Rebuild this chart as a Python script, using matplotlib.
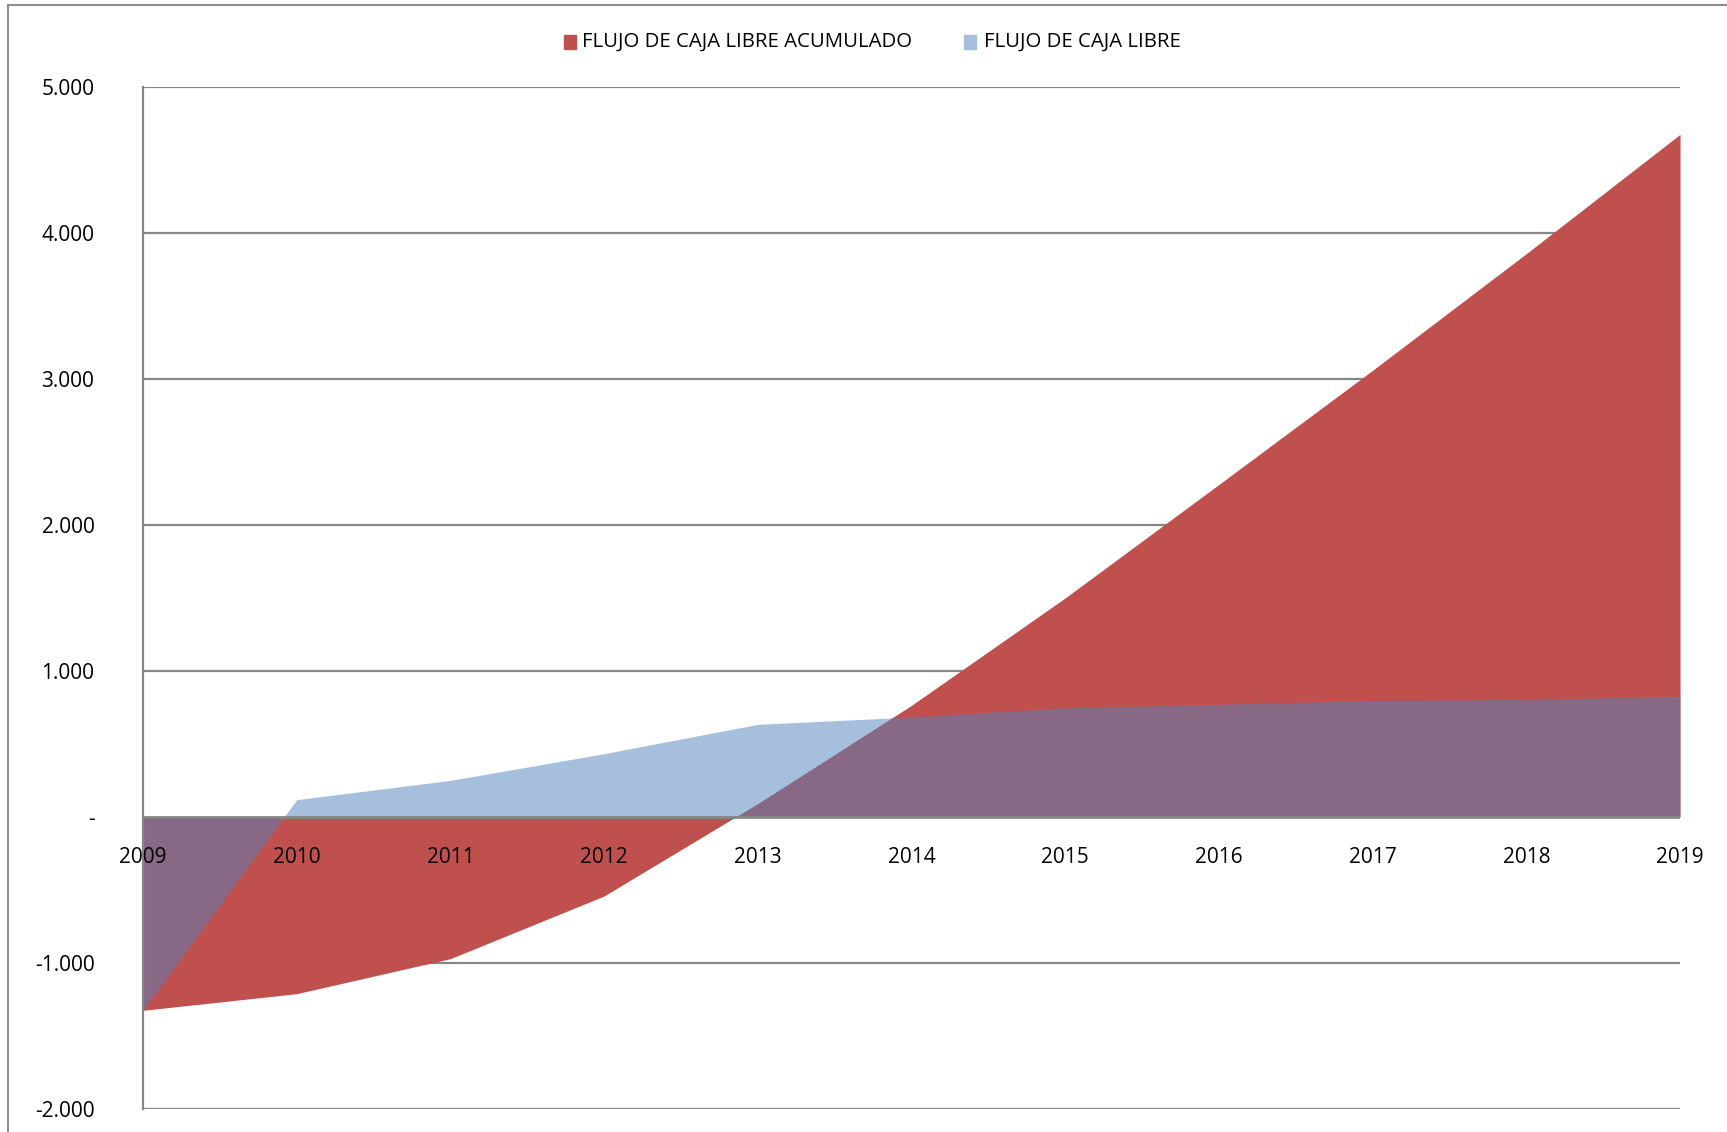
import matplotlib
matplotlib.use("Agg")
import matplotlib.pyplot as plt
from matplotlib.patches import Rectangle
from matplotlib.lines import Line2D

years = ["2009", "2010", "2011", "2012", "2013", "2014", "2015", "2016", "2017", "2018", "2019"]
flujo_acumulado = [-1324, -1210, -970, -541, 92, 765, 1501, 2278, 3060, 3859, 4676]
flujo_libre = [-1324, 119, 251, 434, 635, 685, 749, 772, 799, 806, 827]
y_ticks = [-2000, -1000, 0, 1000, 2000, 3000, 4000, 5000]
y_tick_labels = ["-2.000", "-1.000", "-", "1.000", "2.000", "3.000", "4.000", "5.000"]

RED = "#C0504D"
BLUE = "#4F81BD"
GRID = "#868686"

plt.rcParams["font.family"] = ["Open Sans", "DejaVu Sans"]

fig = plt.figure(figsize=(17.27, 11.32), dpi=100)
ax = fig.add_axes([0.0828, 0.0203, 0.89, 0.9028])

x = list(range(len(years)))
ax.fill_between(x, flujo_acumulado, 0, color=RED, linewidth=0, zorder=2)
ax.fill_between(x, flujo_libre, 0, color=BLUE, alpha=0.5, linewidth=0, zorder=3)

ax.set_xlim(0, len(years) - 1)
ax.set_ylim(-2000, 5000)

# horizontal gridlines behind the areas
for v in y_ticks:
    if v != 0:
        ax.axhline(v, color=GRID, linewidth=1.6, zorder=1)
# category axis at zero, on top
ax.axhline(0, color=GRID, linewidth=2.0, zorder=5)

for s in ["top", "right", "bottom"]:
    ax.spines[s].set_visible(False)
ax.spines["left"].set_color(GRID)
ax.spines["left"].set_linewidth(1.6)
ax.spines["left"].set_zorder(6)

ax.set_yticks(y_ticks)
ax.set_yticklabels(y_tick_labels)
ax.tick_params(axis="y", length=0, pad=35, labelsize=15)
ax.set_xticks([])

for i, yr in enumerate(years):
    ax.text(i, -275, yr, ha="center", va="center", fontsize=15, zorder=7)

# legend
fig.patches.append(Rectangle((564 / 1727, 1 - 49 / 1132), 12 / 1727, 14 / 1132,
                             transform=fig.transFigure, color=RED))
fig.text(582 / 1727, 1 - 42 / 1132, "FLUJO DE CAJA LIBRE ACUMULADO",
         ha="left", va="center", fontsize=14.7)
fig.patches.append(Rectangle((964 / 1727, 1 - 49 / 1132), 12 / 1727, 14 / 1132,
                             transform=fig.transFigure, color="#A7BFDE"))
fig.text(984 / 1727, 1 - 42 / 1132, "FLUJO DE CAJA LIBRE",
         ha="left", va="center", fontsize=14.7)

# chart-area border
fig.lines.append(Line2D([8 / 1727, 8 / 1727], [0, 1 - 5 / 1132],
                        transform=fig.transFigure, color="#8C8C8C", linewidth=1.5))
fig.lines.append(Line2D([8 / 1727, 1], [1 - 5 / 1132, 1 - 5 / 1132],
                        transform=fig.transFigure, color="#8C8C8C", linewidth=1.5))

fig.savefig("out.png", dpi=100, facecolor="white")
